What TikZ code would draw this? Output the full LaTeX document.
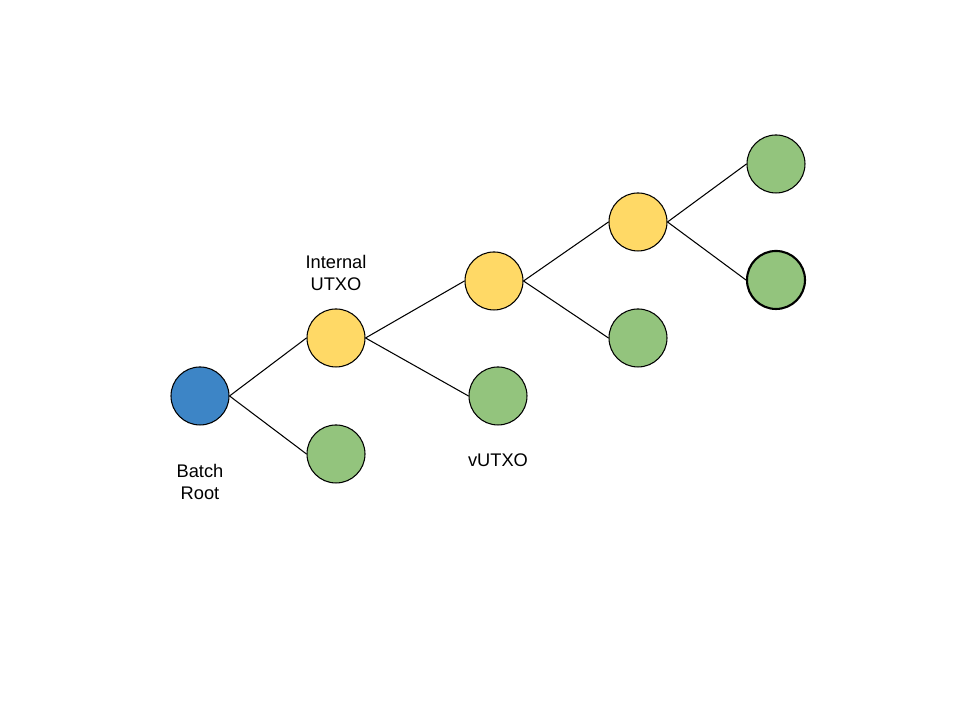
\documentclass[tikz,border=0pt]{standalone}
\usepackage{fontspec}
\setmainfont{Liberation Sans}
\definecolor{rootblue}{HTML}{3D85C6}
\definecolor{utxoyellow}{HTML}{FFD966}
\definecolor{vutxogreen}{HTML}{93C47D}
\begin{document}
\begin{tikzpicture}[every node/.style={circle, draw, line width=0.3pt, minimum size=0.58cm, inner sep=0pt},
    label/.style={draw=none, rectangle, align=center, minimum size=0pt, font=\fontsize{5.2}{6.3}\selectfont}]
      \useasboundingbox (0,0) rectangle (9.6,7.2);
      \node (1) at (2.00,3.24) [fill=rootblue] {};
      \node (2) at (3.36,3.82) [fill=utxoyellow] {};
      \node (3) at (3.36,2.66) [fill=vutxogreen] {};
      \node (4) at (4.94,4.39) [fill=utxoyellow] {};
      \node (5) at (4.98,3.24) [fill=vutxogreen] {};
      \node (6) at (6.38,4.98) [fill=utxoyellow] {};
      \node (7) at (6.38,3.82) [fill=vutxogreen] {};
      \node (8) at (7.76,5.56) [fill=vutxogreen] {};
      \node (9) at (7.76,4.40) [fill=vutxogreen, line width=0.6pt] {};
      \node (batch) at (2.00,2.38) [label] {Batch\\Root};
      \node (internal) at (3.36,4.47) [label] {Internal\\UTXO};
      \node (vutxo) at (4.98,2.60) [label] {vUTXO};
      \foreach \source/\dest in {1/2, 1/3, 2/4, 2/5, 4/6, 4/7, 6/8, 6/9}
        \path (\source.east) edge[line width=0.3pt] (\dest.west);
    \end{tikzpicture}
\end{document}
